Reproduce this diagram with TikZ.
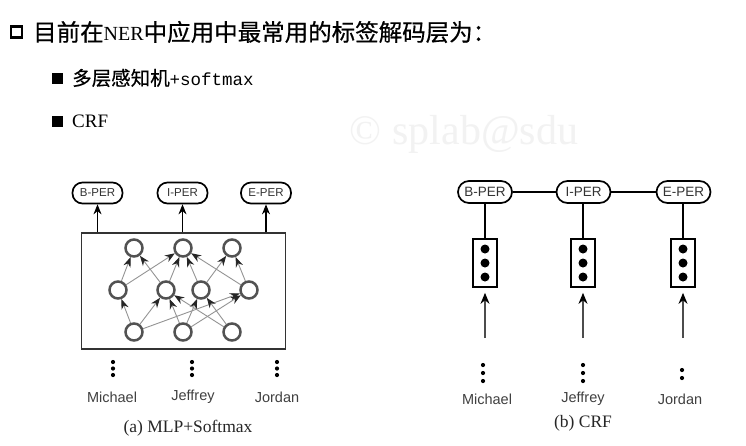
\documentclass[tikz,border=0pt]{standalone}
\usepackage{fontspec}
\setmainfont{Liberation Serif}
\setsansfont{Liberation Sans}
\setmonofont{Liberation Mono}
\newfontfamily\cjk[FakeBold=0.6]{Noto Sans CJK SC}
\usetikzlibrary{arrows.meta}
\begin{document}
\begin{tikzpicture}[x=1pt,y=-1pt,
  labA/.style={draw=black, line width=1.7pt, rounded corners=10pt, minimum width=50pt, minimum height=21pt, inner sep=0pt, font=\sffamily\fontsize{11.5}{12}\selectfont, text=black!80},
  labB/.style={draw=black, line width=1.7pt, rounded corners=11pt, minimum width=54pt, minimum height=22pt, inner sep=0pt, font=\sffamily\fontsize{13.5}{14}\selectfont, text=black!80},
  neuron/.style={circle, draw=black!68, line width=2.5pt, minimum size=17pt, inner sep=0pt},
  nnedge/.style={draw=black!42, line width=0.9pt, -{Stealth[length=10pt,width=7.5pt,color=black!85]}},
  uparr/.style={draw=black, line width=1.4pt, -{Stealth[length=10pt,width=8pt]}},
  crfarr/.style={draw=black!70, line width=1.2pt, -{Stealth[length=11pt,width=9pt,color=black]}},
  sdot/.style={circle, fill=black, inner sep=0pt, minimum size=4.2pt},
  bigdot/.style={circle, fill=black, inner sep=0pt, minimum size=9pt},
  word/.style={font=\sffamily\fontsize{14.5}{15}\selectfont, text=black!75},
  capt/.style={font=\rmfamily\fontsize{17.5}{18}\selectfont, text=black!85},
  cell/.style={draw=black, line width=1.7pt, minimum width=24pt, minimum height=48pt, inner sep=0pt}
]
\useasboundingbox (0,0) rectangle (746,445);
\fill[white] (0,0) rectangle (746,445);

% watermark
\node[font=\rmfamily\fontsize{42}{42}\selectfont, text=black!5] (wm) at (464,134) {© splab@sdu};

% header
\node[draw=black, line width=2.8pt, minimum size=11pt, inner sep=0pt] (hb) at (16.5,32) {};
\node[anchor=west, inner sep=0pt, font=\cjk\fontsize{23.5}{25}\selectfont] (ht) at (33,32) {目前在{\rmfamily\fontsize{20}{20}\selectfont NER}中应用中最常用的标签解码层为：};
\node[fill=black, minimum size=11pt, inner sep=0pt] (b1) at (57.5,78) {};
\node[anchor=west, inner sep=0pt, font=\cjk\fontsize{19.5}{21}\selectfont] (t1) at (72,78) {多层感知机{\ttfamily\fontsize{17.5}{19}\selectfont +softmax}};
\node[fill=black, minimum size=11pt, inner sep=0pt] (b2) at (57.5,121) {};
\node[anchor=west, inner sep=0pt, font=\rmfamily\fontsize{19}{21}\selectfont] (t2) at (72,121) {CRF};

% ---------- (a) MLP+Softmax ----------
\node[draw=black!80, line width=1.2pt, minimum width=204pt, minimum height=116pt, inner sep=0pt] (mlp) at (183.5,291) {};
\node[labA] (la1) at (97.5,193) {B-PER};
\node[labA] (la2) at (182.5,193) {I-PER};
\node[labA] (la3) at (266,193) {E-PER};
\foreach \i in {1,2,3}{
  \draw[uparr] (la\i.south |- mlp.north) -- (la\i.south);
}
\node[neuron] (t1n) at (134,248) {};
\node[neuron] (t2n) at (183,248) {};
\node[neuron] (t3n) at (232,248) {};
\node[neuron] (m1) at (118,290) {};
\node[neuron] (m2) at (166,290) {};
\node[neuron] (m3) at (201,290) {};
\node[neuron] (m4) at (249,290) {};
\node[neuron] (bb1) at (134,332) {};
\node[neuron] (bb2) at (183,332) {};
\node[neuron] (bb3) at (232,332) {};
% bottom -> middle
\draw[nnedge] (bb1) -- (m1);
\draw[nnedge] (bb1) -- (m2);
\draw[nnedge] (bb1) -- (m4);
\draw[nnedge] (bb2) -- (m2);
\draw[nnedge] (bb2) -- (m3);
\draw[nnedge] (bb2) -- (m4);
\draw[nnedge] (bb3) -- (m2);
\draw[nnedge] (bb3) -- (m3);
% middle -> top
\draw[nnedge] (m1) -- (t1n);
\draw[nnedge] (m1) -- (t2n);
\draw[nnedge] (m2) -- (t1n);
\draw[nnedge] (m2) -- (t2n);
\draw[nnedge] (m3) -- (t2n);
\draw[nnedge] (m3) -- (t3n);
\draw[nnedge] (m4) -- (t2n);
\draw[nnedge] (m4) -- (t3n);
% dots and words
\foreach \k/\x in {1/113,2/192,3/277}{
  \node[sdot] (ad\k a) at (\x,362) {};
  \node[sdot] (ad\k b) at (\x,368.5) {};
  \node[sdot] (ad\k c) at (\x,375) {};
}
\node[word] (wa1) at (112,397) {Michael};
\node[word] (wa2) at (193,397) {Jeffrey};
\node[word] (wa3) at (277,397) {Jordan};
\node[capt] (capa) at (188,428) {(a) MLP+Softmax};

% ---------- (b) CRF ----------
\node[labB] (lb1) at (485,192) {B-PER};
\node[labB] (lb2) at (583.5,192) {I-PER};
\node[labB] (lb3) at (683.5,192) {E-PER};
\draw[line width=1.5pt] (lb1) -- (lb2);
\draw[line width=1.5pt] (lb2) -- (lb3);
\foreach \k/\x in {1/485,2/583,3/683}{
  \node[cell] (c\k) at (\x,263) {};
  \node[bigdot] (c\k a) at (\x,249) {};
  \node[bigdot] (c\k b) at (\x,263) {};
  \node[bigdot] (c\k c) at (\x,277) {};
  \draw[line width=1.5pt] (c\k.north |- lb\k.south) -- (c\k.north);
  \coordinate (in\k) at (\x,338);
  \draw[crfarr, shorten >=5pt] (in\k) -- (c\k.south);
}
\foreach \k/\x in {1/483,2/583}{
  \node[sdot] (bd\k a) at (\x,365) {};
  \node[sdot] (bd\k b) at (\x,373) {};
  \node[sdot] (bd\k c) at (\x,381) {};
}
\node[sdot] (bd3a) at (682,370) {};
\node[sdot] (bd3b) at (682,378) {};
\node[word] (wb1) at (487,399) {Michael};
\node[word] (wb2) at (583,399) {Jeffrey};
\node[word] (wb3) at (680,399) {Jordan};
\node[capt] (capb) at (583,423) {(b) CRF};
\end{tikzpicture}
\end{document}
